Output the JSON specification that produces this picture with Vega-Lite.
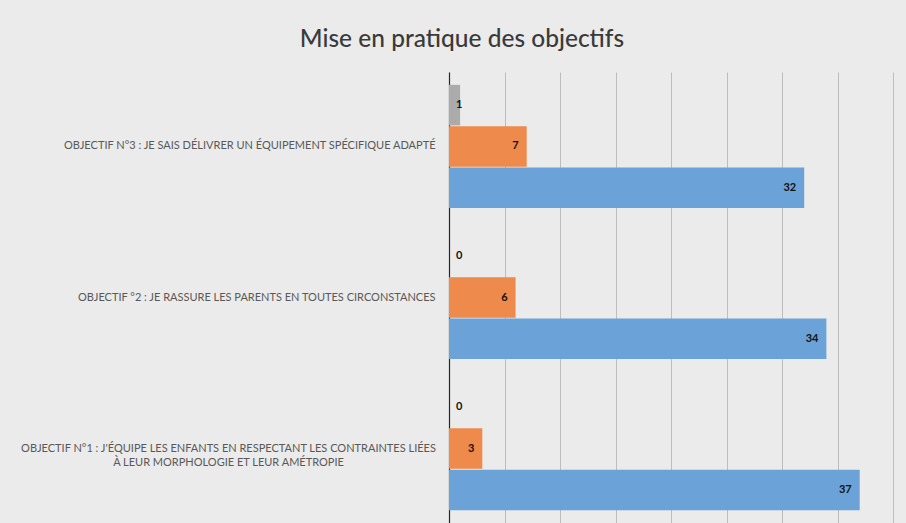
{
  "$schema": "https://vega.github.io/schema/vega-lite/v6.json",
  "autosize": {"type": "none"},
  "width": 444,
  "height": 451,
  "padding": {"left": 449, "top": 72, "right": 13, "bottom": 0},
  "background": "#ebebeb",
  "title": {
    "text": "Mise en pratique des objectifs",
    "font": "Lato",
    "fontSize": 24.5,
    "fontWeight": 500,
    "color": "#3a3a3a",
    "anchor": "middle",
    "dx": -209,
    "offset": 20
  },
  "config": {"view": {"stroke": null}},
  "data": {
    "values": [
      {"objectif": "OBJECTIF N°3 : JE SAIS DÉLIVRER UN ÉQUIPEMENT SPÉCIFIQUE ADAPTÉ", "serie": "Série 3", "valeur": 1},
      {"objectif": "OBJECTIF N°3 : JE SAIS DÉLIVRER UN ÉQUIPEMENT SPÉCIFIQUE ADAPTÉ", "serie": "Série 2", "valeur": 7},
      {"objectif": "OBJECTIF N°3 : JE SAIS DÉLIVRER UN ÉQUIPEMENT SPÉCIFIQUE ADAPTÉ", "serie": "Série 1", "valeur": 32},
      {"objectif": "OBJECTIF °2 : JE RASSURE LES PARENTS EN TOUTES CIRCONSTANCES", "serie": "Série 3", "valeur": 0},
      {"objectif": "OBJECTIF °2 : JE RASSURE LES PARENTS EN TOUTES CIRCONSTANCES", "serie": "Série 2", "valeur": 6},
      {"objectif": "OBJECTIF °2 : JE RASSURE LES PARENTS EN TOUTES CIRCONSTANCES", "serie": "Série 1", "valeur": 34},
      {"objectif": "OBJECTIF N°1 : J'ÉQUIPE LES ENFANTS EN RESPECTANT LES CONTRAINTES LIÉES\nÀ  LEUR MORPHOLOGIE ET LEUR AMÉTROPIE", "serie": "Série 3", "valeur": 0},
      {"objectif": "OBJECTIF N°1 : J'ÉQUIPE LES ENFANTS EN RESPECTANT LES CONTRAINTES LIÉES\nÀ  LEUR MORPHOLOGIE ET LEUR AMÉTROPIE", "serie": "Série 2", "valeur": 3},
      {"objectif": "OBJECTIF N°1 : J'ÉQUIPE LES ENFANTS EN RESPECTANT LES CONTRAINTES LIÉES\nÀ  LEUR MORPHOLOGIE ET LEUR AMÉTROPIE", "serie": "Série 1", "valeur": 37}
    ]
  },
  "encoding": {
    "y": {
      "field": "objectif",
      "type": "nominal",
      "sort": [
        "OBJECTIF N°3 : JE SAIS DÉLIVRER UN ÉQUIPEMENT SPÉCIFIQUE ADAPTÉ",
        "OBJECTIF °2 : JE RASSURE LES PARENTS EN TOUTES CIRCONSTANCES",
        "OBJECTIF N°1 : J'ÉQUIPE LES ENFANTS EN RESPECTANT LES CONTRAINTES LIÉES\nÀ  LEUR MORPHOLOGIE ET LEUR AMÉTROPIE"
      ],
      "scale": {"paddingInner": 0.184, "paddingOuter": 0.085},
      "axis": {
        "title": null,
        "ticks": false,
        "domain": true,
        "domainColor": "#262626",
        "domainWidth": 1.2,
        "labelFont": "Lato",
        "labelFontSize": 11,
        "labelColor": "#595959",
        "labelLimit": 0,
        "labelLineHeight": 14.5,
        "labelExpr": "split(datum.label, '\\n')",
        "labelAlign": {"condition": {"test": "indexof(datum.value, 'N°1') >= 0", "value": "center"}, "value": "right"},
        "labelPadding": {"condition": {"test": "indexof(datum.value, 'N°1') >= 0", "value": 221}, "value": 14}
      }
    },
    "yOffset": {
      "field": "serie",
      "type": "nominal",
      "sort": ["Série 3", "Série 2", "Série 1"],
      "scale": {"paddingInner": 0.02}
    }
  },
  "layer": [
    {
      "mark": {"type": "bar"},
      "encoding": {
        "x": {
          "field": "valeur",
          "type": "quantitative",
          "scale": {"domain": [0, 40], "nice": false},
          "axis": {
            "title": null,
            "labels": false,
            "ticks": false,
            "domain": false,
            "values": [0, 5, 10, 15, 20, 25, 30, 35, 40],
            "grid": true,
            "gridColor": "#bdbdbd",
            "gridWidth": 1
          }
        },
        "color": {
          "field": "serie",
          "type": "nominal",
          "scale": {"domain": ["Série 1", "Série 2", "Série 3"], "range": ["#6ba3d8", "#ee8a4b", "#ababab"]},
          "legend": null
        }
      }
    },
    {
      "transform": [{"filter": "datum.valeur >= 3"}],
      "mark": {"type": "text", "align": "right", "dx": -8, "fontWeight": "bold", "fontSize": 11, "font": "Lato", "color": "#111111"},
      "encoding": {
        "x": {"field": "valeur", "type": "quantitative"},
        "text": {"field": "valeur", "type": "quantitative"}
      }
    },
    {
      "transform": [{"filter": "datum.valeur < 3"}],
      "mark": {"type": "text", "align": "left", "dx": 7, "fontWeight": "bold", "fontSize": 11, "font": "Lato", "color": "#111111"},
      "encoding": {
        "x": {"datum": 0, "type": "quantitative"},
        "text": {"field": "valeur", "type": "quantitative"}
      }
    }
  ]
}
